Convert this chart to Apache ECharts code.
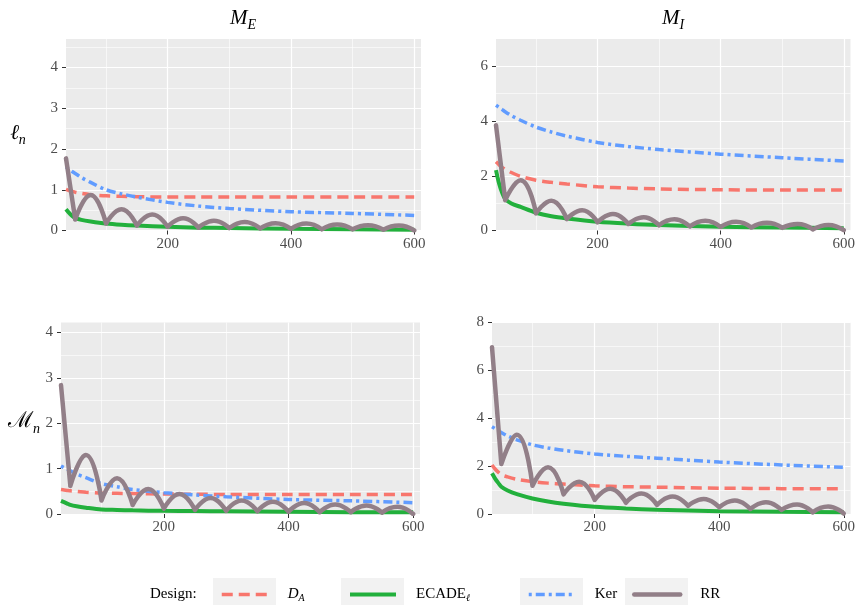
<!DOCTYPE html>
<html><head><meta charset="utf-8">
<script src="https://cdn.jsdelivr.net/npm/echarts@6/dist/echarts.min.js"></script>
<style>html,body{margin:0;padding:0;background:#fff}#c{width:858px;height:605px}</style>
</head><body><div id="c"></div>
<script>
// ---------- data ----------
const seriesNames = ['D_A', 'ECADE_l', 'Ker', 'RR'];
const xSmooth = [35, 40, 45, 50, 60, 75, 100, 125, 150, 200, 250, 300, 400, 500, 600];
const xRR = [35, 50, 75, 100, 125, 150, 175, 200, 225, 250, 275, 300, 325, 350, 375, 400, 425, 450, 475, 500, 525, 550, 575, 600];
const xMajorTicks = [200, 400, 600];
const xMinorTicks = [100, 300, 500];

// top-left: l_n, M_E
const tlDA    = [1.01, 0.98, 0.96, 0.94, 0.91, 0.88, 0.85, 0.84, 0.83, 0.82, 0.82, 0.82, 0.82, 0.82, 0.82];
const tlECADE = [0.52, 0.43, 0.36, 0.31, 0.26, 0.22, 0.17, 0.14, 0.12, 0.09, 0.07, 0.06, 0.04, 0.03, 0.02];
const tlKer   = [1.56, 1.50, 1.45, 1.40, 1.30, 1.18, 1.00, 0.90, 0.82, 0.69, 0.60, 0.54, 0.46, 0.42, 0.37];
const tlRR    = [1.77, 0.27, 0.87, 0.17, 0.52, 0.12, 0.39, 0.09, 0.30, 0.07, 0.24, 0.06, 0.21, 0.05, 0.18, 0.04, 0.17, 0.03, 0.15, 0.03, 0.13, 0.02, 0.12, 0.00];
// top-right: l_n, M_I
const trDA    = [2.51, 2.40, 2.31, 2.24, 2.12, 1.98, 1.84, 1.76, 1.70, 1.60, 1.55, 1.52, 1.49, 1.48, 1.48];
const trECADE = [2.21, 1.72, 1.38, 1.15, 0.99, 0.86, 0.65, 0.52, 0.44, 0.32, 0.25, 0.20, 0.14, 0.11, 0.08];
const trKer   = [4.58, 4.50, 4.42, 4.34, 4.20, 4.03, 3.78, 3.60, 3.45, 3.22, 3.07, 2.96, 2.79, 2.66, 2.54];
const trRR    = [3.85, 1.11, 1.84, 0.63, 1.09, 0.42, 0.74, 0.30, 0.60, 0.24, 0.48, 0.19, 0.41, 0.15, 0.36, 0.13, 0.32, 0.11, 0.28, 0.10, 0.24, 0.04, 0.20, 0.01];
// bottom-left: Mcal_n, M_E
const blDA    = [0.54, 0.53, 0.52, 0.51, 0.50, 0.48, 0.46, 0.455, 0.45, 0.44, 0.435, 0.43, 0.43, 0.43, 0.43];
const blECADE = [0.29, 0.26, 0.23, 0.20, 0.17, 0.14, 0.10, 0.09, 0.08, 0.07, 0.065, 0.06, 0.05, 0.04, 0.04];
const blKer   = [1.06, 1.02, 0.99, 0.95, 0.88, 0.80, 0.67, 0.60, 0.54, 0.47, 0.42, 0.38, 0.32, 0.29, 0.25];
const blRR    = [2.84, 0.62, 1.30, 0.30, 0.79, 0.20, 0.55, 0.12, 0.44, 0.09, 0.35, 0.07, 0.30, 0.06, 0.27, 0.05, 0.24, 0.04, 0.21, 0.04, 0.19, 0.03, 0.16, 0.00];
// bottom-right: Mcal_n, M_I
const brDA    = [2.05, 1.88, 1.75, 1.64, 1.55, 1.45, 1.35, 1.29, 1.25, 1.18, 1.14, 1.12, 1.08, 1.06, 1.05];
const brECADE = [1.70, 1.48, 1.30, 1.14, 0.98, 0.83, 0.65, 0.52, 0.43, 0.30, 0.23, 0.18, 0.12, 0.09, 0.07];
const brKer   = [3.65, 3.57, 3.48, 3.40, 3.26, 3.10, 2.89, 2.76, 2.66, 2.51, 2.41, 2.33, 2.17, 2.05, 1.95];
const brRR    = [6.97, 2.09, 3.31, 1.18, 1.95, 0.82, 1.35, 0.59, 1.05, 0.47, 0.86, 0.38, 0.73, 0.34, 0.63, 0.28, 0.56, 0.21, 0.49, 0.17, 0.40, 0.07, 0.31, 0.02];

const tlYMajor = [0, 1, 2, 3, 4], tlYMinor = [0.5, 1.5, 2.5, 3.5, 4.5];
const trYMajor = [0, 2, 4, 6],    trYMinor = [1, 3, 5];
const blYMajor = [0, 1, 2, 3, 4], blYMinor = [0.5, 1.5, 2.5, 3.5];
const brYMajor = [0, 2, 4, 6, 8], brYMinor = [1, 3, 5, 7];

// ---------- layout / style ----------
const F = '"Liberation Serif", "DejaVu Serif", serif';
const COLORS = { D_A: '#F8766D', ECADE_l: '#22B03C', Ker: '#619CFF', RR: '#927F88' };
const panels = [
  { grid: { left: 66, top: 39, width: 355, height: 191.5 }, yMax: 4.7, yMajor: tlYMajor, yMinor: tlYMinor, d: [tlDA, tlECADE, tlKer, tlRR] },
  { grid: { left: 496, top: 39, width: 355, height: 191.5 }, yMax: 7, yMajor: trYMajor, yMinor: trYMinor, d: [trDA, trECADE, trKer, trRR] },
  { grid: { left: 61, top: 322.5, width: 359, height: 191.5 }, yMax: 4.22, yMajor: blYMajor, yMinor: blYMinor, d: [blDA, blECADE, blKer, blRR] },
  { grid: { left: 492, top: 322.5, width: 359, height: 191.5 }, yMax: 8, yMajor: brYMajor, yMinor: brYMinor, d: [brDA, brECADE, brKer, brRR] }
];
const XMIN = 35, XMAX = 611;

function rrData(vals) {
  const out = [];
  for (let k = 0; k < xRR.length; k++) {
    const x = xRR[k], y = vals[k];
    out.push([x, y]);
    if (x % 50 === 0 && k > 0 && k < xRR.length - 1) { out.push([x, null]); out.push([x, y]); }
  }
  return out;
}
function pairs(xs, ys) { return xs.map((x, i) => [x, ys[i]]); }

const grid = [], xAxis = [], yAxis = [], series = [];
const lineStyles = {
  D_A: { width: 3.5, type: [11, 6], cap: 'butt' },
  ECADE_l: { width: 4, type: 'solid' },
  Ker: { width: 3.5, type: [3, 4, 9, 4], cap: 'butt' },
  RR: { width: 4.5, type: 'solid', cap: 'round', join: 'round' }
};
panels.forEach((p, i) => {
  grid.push(Object.assign({ show: true, backgroundColor: '#EBEBEB', borderWidth: 0 }, p.grid));
  xAxis.push({
    gridIndex: i, type: 'value', min: XMIN, max: XMAX,
    axisLine: { show: false },
    axisTick: { show: true, length: 4, lineStyle: { color: '#333', width: 1 }, customValues: xMajorTicks },
    axisLabel: { show: true, customValues: xMajorTicks, color: '#4D4D4D', fontFamily: F, fontSize: 15, margin: 6 },
    splitLine: { show: true, lineStyle: { color: '#FFFFFF', width: 1.2 } }
  });
  xAxis.push({
    gridIndex: i, type: 'value', min: XMIN, max: XMAX,
    axisLine: { show: false },
    axisTick: { show: false, customValues: xMinorTicks },
    axisLabel: { show: false, customValues: xMinorTicks },
    splitLine: { show: true, lineStyle: { color: '#FFFFFF', width: 0.6 } }
  });
  yAxis.push({
    gridIndex: i, type: 'value', min: 0, max: p.yMax,
    axisLine: { show: false },
    axisTick: { show: true, length: 4, lineStyle: { color: '#333', width: 1 }, customValues: p.yMajor },
    axisLabel: { show: true, customValues: p.yMajor, color: '#4D4D4D', fontFamily: F, fontSize: 15, margin: 8 },
    splitLine: { show: true, lineStyle: { color: '#FFFFFF', width: 1.2 } }
  });
  yAxis.push({
    gridIndex: i, type: 'value', min: 0, max: p.yMax,
    axisLine: { show: false },
    axisTick: { show: false, customValues: p.yMinor },
    axisLabel: { show: false, customValues: p.yMinor },
    splitLine: { show: true, lineStyle: { color: '#FFFFFF', width: 0.6 } }
  });
  seriesNames.forEach((name, k) => {
    const isRR = name === 'RR';
    series.push({
      type: 'line', name: name,
      xAxisIndex: 2 * i, yAxisIndex: 2 * i,
      data: isRR ? rrData(p.d[k]) : pairs(xSmooth, p.d[k]),
      smooth: isRR ? 0.5 : 0.3, symbol: 'none', showSymbol: false, connectNulls: false,
      color: COLORS[name],
      lineStyle: Object.assign({ color: COLORS[name] }, lineStyles[name]),
      z: 2 + k
    });
  });
});

const rich = {
  i: { fontFamily: F, fontStyle: 'italic', fontSize: 15, color: '#000' },
  n: { fontFamily: F, fontSize: 15, color: '#000' },
  s: { fontFamily: F, fontStyle: 'italic', fontSize: 10, color: '#000', verticalAlign: 'bottom', padding: [0, 0, -1, 0] }
};
const legendLabels = { D_A: '{i|D}{s|A}', ECADE_l: '{n|ECADE}{s|ℓ}', Ker: '{n|Ker}', RR: '{n|RR}' };
const legendLeft = { D_A: 220, ECADE_l: 348, Ker: 527, RR: 632 };
const legend = seriesNames.map(name => ({
  data: [name], left: legendLeft[name], top: 587, padding: 0,
  itemWidth: 46, itemHeight: 14, itemGap: 0,
  formatter: n => legendLabels[n],
  itemStyle: { opacity: 0 },
  lineStyle: { width: lineStyles[name].width },
  textStyle: { rich: rich, padding: [0, 0, 0, 15], fontFamily: F, fontSize: 15 },
  selectedMode: false
}));

const titleRich = {
  m: { fontFamily: F, fontStyle: 'italic', fontSize: 21, color: '#000', padding: [0, 0, 4, 0] },
  s: { fontFamily: F, fontStyle: 'italic', fontSize: 14, color: '#000', verticalAlign: 'bottom' },
  r: { fontFamily: F, fontSize: 22, color: '#000', padding: [0, 0, 4, 0] }
};
const boxes = [213, 341, 520, 625].map(x => ({
  type: 'rect', shape: { x: x, y: 578, width: 63, height: 30 }, style: { fill: '#F2F2F2' }, z: -1
}));
const texts = [
  { type: 'text', x: 243, y: 20, style: { text: '{m|M}{s|E}', rich: titleRich, align: 'center', verticalAlign: 'middle' } },
  { type: 'text', x: 673, y: 20, style: { text: '{m|M}{s|I}', rich: titleRich, align: 'center', verticalAlign: 'middle' } },
  { type: 'text', x: 18, y: 135, style: { text: '{m|ℓ}{s|n}', rich: titleRich, align: 'center', verticalAlign: 'middle' } },
  { type: 'text', x: 24, y: 423, style: { text: '{r|ℳ}{s|n}', rich: titleRich, align: 'center', verticalAlign: 'middle' } },
  { type: 'text', x: 150, y: 594, style: { text: 'Design:', fontFamily: F, fontSize: 15, fill: '#000', align: 'left', verticalAlign: 'middle' } }
];

const chart = echarts.init(document.getElementById('c'), null, { renderer: 'canvas' });
chart.setOption({
  animation: false,
  backgroundColor: '#FFFFFF',
  grid, xAxis, yAxis, series, legend,
  graphic: { elements: boxes.concat(texts) }
});
</script></body></html>
